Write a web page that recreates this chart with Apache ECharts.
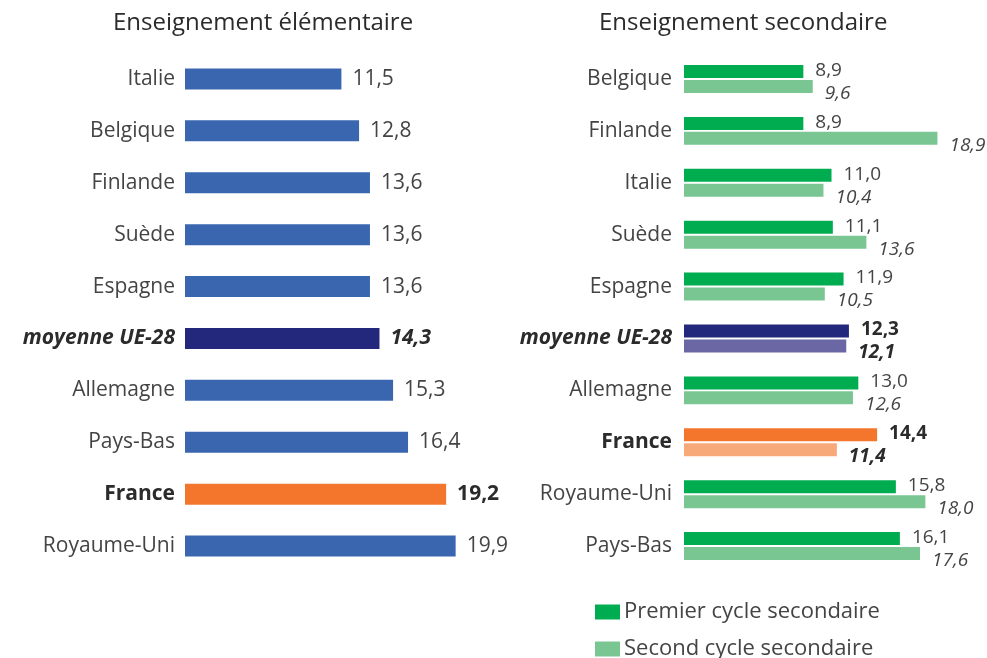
<!DOCTYPE html>
<html>
<head>
<meta charset="utf-8">
<script src="https://cdn.jsdelivr.net/npm/echarts@6/dist/echarts.min.js"></script>
<style>
  html, body { margin: 0; padding: 0; background: #fff; }
  #main { width: 987px; height: 658px; }
</style>
</head>
<body>
<div id="main"></div>
<script>
// Enseignement élémentaire
var elemCountries = ['Italie', 'Belgique', 'Finlande', 'Suède', 'Espagne', 'moyenne UE-28', 'Allemagne', 'Pays-Bas', 'France', 'Royaume-Uni'];
var elemValues = [11.5, 12.8, 13.6, 13.6, 13.6, 14.3, 15.3, 16.4, 19.2, 19.9];

// Enseignement secondaire
var secCountries = ['Belgique', 'Finlande', 'Italie', 'Suède', 'Espagne', 'moyenne UE-28', 'Allemagne', 'France', 'Royaume-Uni', 'Pays-Bas'];
var premierValues = [8.9, 8.9, 11.0, 11.1, 11.9, 12.3, 13.0, 14.4, 15.8, 16.1];
var secondValues = [9.6, 18.9, 10.4, 13.6, 10.5, 12.1, 12.6, 11.4, 18.0, 17.6];

var FONT = 'Open Sans';
var fmt = function (v) { return v.toFixed(1).replace('.', ','); };

function catLabel(name) {
  if (name === 'moyenne UE-28') return '{avg|' + name + '}';
  if (name === 'France') return '{fr|' + name + '}';
  return name;
}
var catRich = {
  avg: { fontFamily: FONT, fontSize: 21, fontWeight: 'bold', fontStyle: 'italic', color: '#2b2b2b' },
  fr: { fontFamily: FONT, fontSize: 21, fontWeight: 'bold', color: '#2b2b2b' }
};

// couleurs par pays
var elemData = elemValues.map(function (v, i) {
  var c = elemCountries[i];
  var item = { value: v };
  if (c === 'moyenne UE-28') {
    item.itemStyle = { color: '#23287c' };
    item.label = { fontWeight: 'bold', fontStyle: 'italic', color: '#2b2b2b' };
  } else if (c === 'France') {
    item.itemStyle = { color: '#f3762c' };
    item.label = { fontWeight: 'bold', color: '#2b2b2b' };
  }
  return item;
});
var premierData = premierValues.map(function (v, i) {
  var c = secCountries[i];
  var item = { value: v };
  if (c === 'moyenne UE-28') {
    item.itemStyle = { color: '#23287c' };
    item.label = { fontWeight: 'bold', color: '#2b2b2b' };
  } else if (c === 'France') {
    item.itemStyle = { color: '#f3762c' };
    item.label = { fontWeight: 'bold', color: '#2b2b2b' };
  }
  return item;
});
var secondData = secondValues.map(function (v, i) {
  var c = secCountries[i];
  var item = { value: v };
  if (c === 'moyenne UE-28') {
    item.itemStyle = { color: '#6b67a4' };
    item.label = { fontWeight: 'bold', color: '#2b2b2b' };
  } else if (c === 'France') {
    item.itemStyle = { color: '#f8a97a' };
    item.label = { fontWeight: 'bold', color: '#2b2b2b' };
  }
  return item;
});

var legendText = { fontFamily: FONT, fontSize: 22, color: '#444', padding: [0, 0, 0, -1] };

var myChart = echarts.init(document.getElementById('main'));
var option = {
  backgroundColor: '#fff',
  animation: false,
  textStyle: { fontFamily: FONT },
  title: [{
    text: 'Enseignement élémentaire',
    left: 108,
    top: 6,
    textStyle: { fontFamily: FONT, fontSize: 24, fontWeight: 'normal', color: '#2b2b2b' }
  }, {
    text: 'Enseignement secondaire',
    left: 594,
    top: 6,
    textStyle: { fontFamily: FONT, fontSize: 24, fontWeight: 'normal', color: '#2b2b2b' }
  }],
  legend: [{
    data: ['Premier cycle secondaire'],
    left: 590,
    top: 596,
    itemWidth: 25,
    itemHeight: 15,
    icon: 'rect',
    textStyle: legendText
  }, {
    data: ['Second cycle secondaire'],
    left: 590,
    top: 633,
    itemWidth: 25,
    itemHeight: 15,
    icon: 'rect',
    textStyle: legendText
  }],
  grid: [
    { left: 185, top: 53, width: 340, height: 519 },
    { left: 684, top: 53, width: 295, height: 519 }
  ],
  xAxis: [
    { gridIndex: 0, type: 'value', min: 0, max: 25, show: false },
    { gridIndex: 1, type: 'value', min: 0, max: 22, show: false }
  ],
  yAxis: [{
    gridIndex: 0,
    type: 'category',
    inverse: true,
    data: elemCountries,
    axisLine: { show: false },
    axisTick: { show: false },
    axisLabel: {
      margin: 10,
      fontFamily: FONT,
      fontSize: 21,
      color: '#444',
      formatter: catLabel,
      rich: catRich
    }
  }, {
    gridIndex: 1,
    type: 'category',
    inverse: true,
    data: secCountries,
    axisLine: { show: false },
    axisTick: { show: false },
    axisLabel: {
      margin: 12,
      fontFamily: FONT,
      fontSize: 21,
      color: '#444',
      formatter: catLabel,
      rich: catRich
    }
  }],
  series: [{
    name: 'Enseignement élémentaire',
    type: 'bar',
    xAxisIndex: 0,
    yAxisIndex: 0,
    barWidth: 21,
    itemStyle: { color: '#3a66b0' },
    label: {
      show: true,
      position: 'right',
      distance: 11,
      fontFamily: FONT,
      fontSize: 21,
      color: '#444',
      formatter: function (p) { return fmt(p.value); }
    },
    data: elemData
  }, {
    name: 'Premier cycle secondaire',
    type: 'bar',
    xAxisIndex: 1,
    yAxisIndex: 1,
    barWidth: 13,
    barGap: '15%',
    itemStyle: { color: '#00ac50' },
    label: {
      show: true,
      position: 'right',
      distance: 12,
      offset: [0, -1],
      fontFamily: FONT,
      fontSize: 19,
      color: '#444',
      formatter: function (p) { return fmt(p.value); }
    },
    data: premierData
  }, {
    name: 'Second cycle secondaire',
    type: 'bar',
    xAxisIndex: 1,
    yAxisIndex: 1,
    barWidth: 13,
    barGap: '15%',
    itemStyle: { color: '#7ac692' },
    label: {
      show: true,
      position: 'right',
      distance: 12,
      offset: [0, 7],
      fontFamily: FONT,
      fontSize: 19,
      fontStyle: 'italic',
      color: '#444',
      formatter: function (p) { return fmt(p.value); }
    },
    data: secondData
  }]
};
myChart.setOption(option);
</script>
</body>
</html>
